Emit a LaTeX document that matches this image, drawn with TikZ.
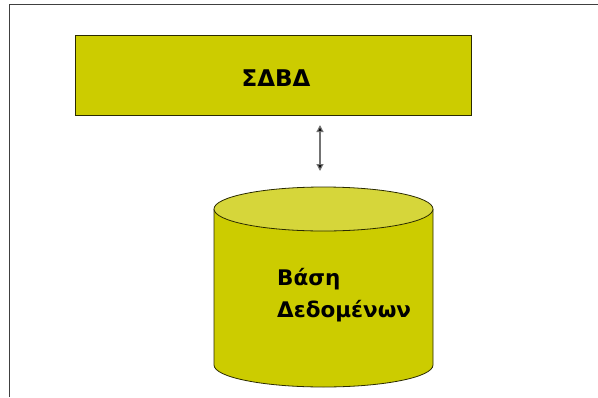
\documentclass[tikz,border=0pt]{standalone}
\usepackage{fontspec}
\setmainfont{DejaVu Sans}
\usetikzlibrary{arrows.meta}
\definecolor{olive}{HTML}{CCCC00}
\definecolor{olivetop}{HTML}{D6D63A}
\definecolor{edge}{HTML}{2A2A00}
\tikzset{
  box/.style={draw=edge, line width=0.8pt, fill=olive},
  label/.style={font=\bfseries\fontsize{21.5}{32}\selectfont, text=black},
}
\begin{document}
\begin{tikzpicture}[x=1pt, y=-1pt]
  \useasboundingbox (0,0) rectangle (598,397);
  % open frame: top and left borders
  \draw[line width=1.5pt, color=black!75] (9.5,397) -- (9.5,4.5) -- (598,4.5);
  % DBMS block
  \node[box, minimum width=396pt, minimum height=80pt, anchor=north west, inner sep=0pt] (dbms) at (75,35) {};
  \node[label, font=\bfseries\fontsize{23}{28}\selectfont] (dbmstext) at (276,78) {ΣΔΒΔ};
  % database cylinder
  \fill[olive] (214,209) -- (214,365) arc[start angle=180, end angle=360, x radius=109.5pt, y radius=22pt] -- (433,209) -- cycle;
  \draw[edge, line width=0.8pt] (214,209) -- (214,365) arc[start angle=180, end angle=360, x radius=109.5pt, y radius=22pt] -- (433,209);
  \draw[edge, line width=0.8pt, fill=olivetop] (323.5,209) ellipse[x radius=109.5pt, y radius=22pt];
  \coordinate (dbtop) at (320,171);
  \node[label, align=left, anchor=north west, inner sep=0pt] (dbtext) at (277,268) {Βάση\\Δεδομένων};
  % two-way link
  \coordinate (dbmsbot) at (320,125);
  \draw[{Triangle[length=7pt,width=7pt,fill=black]}-{Triangle[length=7pt,width=7pt,fill=black]}, draw=black!55, line width=1.2pt] (dbmsbot) -- (dbtop);
\end{tikzpicture}
\end{document}
